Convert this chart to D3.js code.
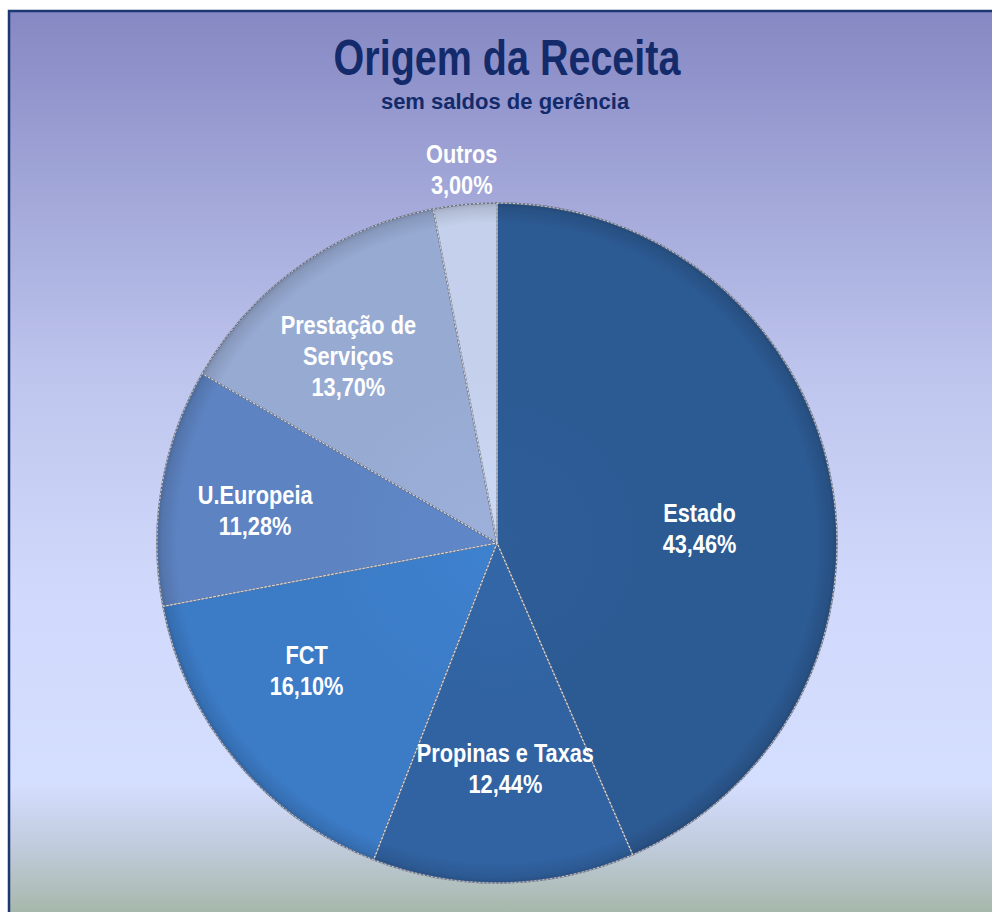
<!DOCTYPE html>
<html>
<head>
<meta charset="utf-8">
<script src="https://cdn.jsdelivr.net/npm/d3@7"></script>
<style>
  html, body { margin: 0; padding: 0; background: #ffffff; }
  svg { display: block; }
  .lbl { font-family: 'Liberation Sans', Arial, sans-serif; font-weight: bold; }
</style>
</head>
<body>
<svg id="chart" width="992" height="912"></svg>
<script>
// ---- data ----
const categories = ["Estado", "Propinas e Taxas", "FCT", "U.Europeia", "Prestação de Serviços", "Outros"];
const values = [43.46, 12.44, 16.10, 11.28, 13.70, 3.00];
const labelLines = [["Estado"], ["Propinas e Taxas"], ["FCT"], ["U.Europeia"], ["Prestação de", "Serviços"], ["Outros"]];
const title = "Origem da Receita";
const subtitle = "sem saldos de gerência";

// ---- style ----
const colors = ["#2c5a93", "#3163a2", "#3c7cc7", "#5d83c2", "#97aad2", "#c5d1ec"];
const labelRadius = [203, 226, 229, 244, 239, 375];
const labelAngleShift = [7.8, -1, 6, -2, -3, 0];

const W = 992, H = 912;
const cx = 497, cy = 543, R = 340;
const svg = d3.select("#chart");
const defs = svg.append("defs");

// background gradient
const bg = defs.append("linearGradient").attr("id", "bg")
  .attr("x1", 0).attr("y1", 0).attr("x2", 0).attr("y2", 1);
[[0, "#8688c3"], [0.2, "#a3a8d9"], [0.4, "#bfc6ee"], [0.62, "#d0d9fb"], [0.83, "#d4defe"],
 [0.89, "#c2cde0"], [0.95, "#adbdb6"], [1, "#97ab93"]].forEach(([o, c]) =>
  bg.append("stop").attr("offset", o).attr("stop-color", c));

svg.append("rect").attr("x", 9).attr("y", 11).attr("width", W + 20).attr("height", H + 20)
  .attr("fill", "url(#bg)").attr("stroke", "#1d3674").attr("stroke-width", 2.5);

// condensed text helper: horizontal scale
function ctext(parent, x, y, str, size, sx, fill) {
  return parent.append("text").attr("class", "lbl")
    .attr("transform", `translate(${x},${y}) scale(${sx},1)`)
    .attr("text-anchor", "middle").attr("font-size", size).attr("fill", fill).text(str);
}

// title
ctext(svg, 507, 75, title, 50, 0.79, "#132a6b");
ctext(svg, 505, 109, subtitle, 22, 1.0, "#132a6b");

// slice gradients (group-local coordinates)
colors.forEach((c, i) => {
  const gr = defs.append("radialGradient").attr("id", "sg" + i)
    .attr("gradientUnits", "userSpaceOnUse").attr("cx", 0).attr("cy", 0).attr("r", R);
  const base = d3.color(c);
  gr.append("stop").attr("offset", 0).attr("stop-color", base.brighter(0.1));
  gr.append("stop").attr("offset", 0.5).attr("stop-color", base);
  gr.append("stop").attr("offset", 0.94).attr("stop-color", base);
  gr.append("stop").attr("offset", 0.985).attr("stop-color", base.darker(0.3));
  gr.append("stop").attr("offset", 1).attr("stop-color", base.darker(0.6));
});

const pie = d3.pie().sort(null).value(d => d).startAngle(0).endAngle(2 * Math.PI);
const arcs = pie(values);
const arc = d3.arc().innerRadius(0).outerRadius(R);

const g = svg.append("g").attr("transform", `translate(${cx},${cy})`);
g.selectAll("path.slice").data(arcs).enter().append("path")
  .attr("class", "slice")
  .attr("d", arc)
  .attr("fill", (d, i) => `url(#sg${i})`)
  .attr("stroke", "#6a7285").attr("stroke-width", 1.6);
g.selectAll("path.edge").data(arcs).enter().append("path")
  .attr("class", "edge")
  .attr("d", arc)
  .attr("fill", "none")
  .attr("stroke", "#d3d8e3").attr("stroke-width", 1).attr("stroke-dasharray", "2,2");

// labels
const fmt = v => v.toFixed(2).replace(".", ",") + "%";
const lineH = 31;
arcs.forEach((d, i) => {
  const a = (d.startAngle + d.endAngle) / 2 + labelAngleShift[i] * Math.PI / 180;
  const x = labelRadius[i] * Math.sin(a);
  const y = -labelRadius[i] * Math.cos(a);
  const lines = labelLines[i].concat([fmt(values[i])]);
  lines.forEach((ln, k) => {
    ctext(g, x, y + (k - (lines.length - 1) / 2) * lineH + 9, ln, 25, 0.87, "#ffffff");
  });
});
</script>
</body>
</html>
